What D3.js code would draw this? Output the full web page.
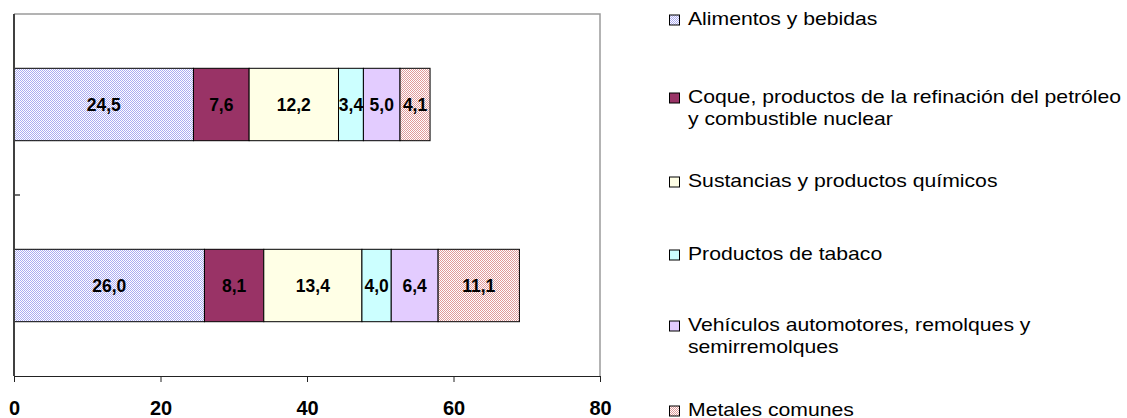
<!DOCTYPE html>
<html><head><meta charset="utf-8">
<script src="https://cdn.jsdelivr.net/npm/d3@7"></script>
<style>body{margin:0;background:#fff}svg{display:block}text{font-family:Arial,"Liberation Sans",sans-serif}</style>
</head><body>
<svg id="c" width="1127" height="418"></svg>
<script>
const categories = ["Periodo 1", "Periodo 2"];
const sectors = ["Alimentos y bebidas", "Coque, productos de la refinación del petróleo y combustible nuclear", "Sustancias y productos químicos", "Productos de tabaco", "Vehículos automotores, remolques y semirremolques", "Metales comunes"];
const legendLines = [["Alimentos y bebidas"], ["Coque, productos de la refinación del petróleo", "y combustible nuclear"], ["Sustancias y productos químicos"], ["Productos de tabaco"], ["Vehículos automotores, remolques y", "semirremolques"], ["Metales comunes"]];
const values1 = [24.5, 7.6, 12.2, 3.4, 5.0, 4.1];
const values2 = [26.0, 8.1, 13.4, 4.0, 6.4, 11.1];
const xTicks = [0, 20, 40, 60, 80];

const svg = d3.select("#c");
const defs = svg.append("defs");
function checker(id, fg, bg){
  const p = defs.append("pattern").attr("id", id).attr("width", 2).attr("height", 2).attr("patternUnits", "userSpaceOnUse");
  p.append("rect").attr("width", 2).attr("height", 2).attr("fill", bg);
  p.append("rect").attr("width", 1).attr("height", 1).attr("fill", fg);
  p.append("rect").attr("x", 1).attr("y", 1).attr("width", 1).attr("height", 1).attr("fill", fg);
}
checker("pA", "#ababf2", "#ffffff");
checker("pM", "#e09a9a", "#ffffff");
const fills = ["url(#pA)", "#993366", "#ffffe6", "#ccffff", "#e3ccff", "url(#pM)"];

const L = 14, R = 600, T = 14, B = 376;
const x = d3.scaleLinear().domain([0, 80]).range([L, R]);
const y = d3.scaleBand().domain(categories).range([T, B]).paddingInner(0.6).paddingOuter(0.3);

const data = [values1, values2];
const stack = categories.map((c, i) => {
  let acc = 0;
  return data[i].map((v, k) => { const s = {cat: c, k, v, x0: acc, x1: acc + v}; acc += v; return s; });
});

svg.append("path").attr("d", `M${L},${T}H${R}V${B}`).attr("fill", "none").attr("stroke", "#9a9a9a").attr("stroke-width", 1.5);

const g = svg.append("g");
stack.forEach(row => {
  g.selectAll(null).data(row).enter().append("rect")
    .attr("x", d => x(d.x0)).attr("y", d => y(d.cat))
    .attr("width", d => x(d.x1) - x(d.x0)).attr("height", y.bandwidth())
    .attr("fill", d => fills[d.k]).attr("stroke", "#000").attr("stroke-width", 1);
  g.selectAll(null).data(row).enter().append("text")
    .attr("x", d => (x(d.x0) + x(d.x1)) / 2).attr("y", d => y(d.cat) + y.bandwidth() / 2)
    .attr("text-anchor", "middle").attr("dy", "0.36em")
    .attr("font-size", 17.5).attr("font-weight", "bold").attr("fill", "#000")
    .text(d => d.v.toFixed(1).replace(".", ","));
});

const xa = svg.append("g").attr("transform", `translate(0,${B})`)
  .call(d3.axisBottom(x).tickValues(xTicks).tickSize(6).tickPadding(19).tickFormat(d => d));
xa.select(".domain").attr("stroke", "#222");
xa.selectAll(".tick line").attr("stroke", "#222");
xa.selectAll("text").attr("font-size", 20).attr("font-weight", "bold").attr("fill", "#000").attr("font-family", "Arial, Liberation Sans, sans-serif");

svg.append("line").attr("x1", L).attr("x2", L).attr("y1", T).attr("y2", B).attr("stroke", "#404040").attr("stroke-width", 2);
const yEdges = [T, ...categories.slice(1).map(c => y(c) - y.step() * y.paddingInner() / 2), B];
svg.selectAll(null).data(yEdges.slice(1, -1)).enter().append("line")
  .attr("x1", L).attr("x2", L + 6).attr("y1", d => d).attr("y2", d => d).attr("stroke", "#404040").attr("stroke-width", 1.5);

const legY = [18, 96, 180, 253, 324, 409];
const lg = svg.append("g");
sectors.forEach((s, i) => {
  const yy = legY[i];
  lg.append("rect").attr("x", 669.5).attr("y", yy - 3).attr("width", 10).attr("height", 10)
    .attr("fill", fills[i]).attr("stroke", "#000").attr("stroke-width", 1);
  legendLines[i].forEach((t, j) => {
    lg.append("g").attr("transform", `translate(688,${yy + j * 22}) scale(1.145,1)`)
      .append("text").attr("x", 0).attr("y", 0).attr("dy", "0.36em")
      .attr("font-size", 18.5).attr("fill", "#000").text(t);
  });
});
</script>
</body></html>
